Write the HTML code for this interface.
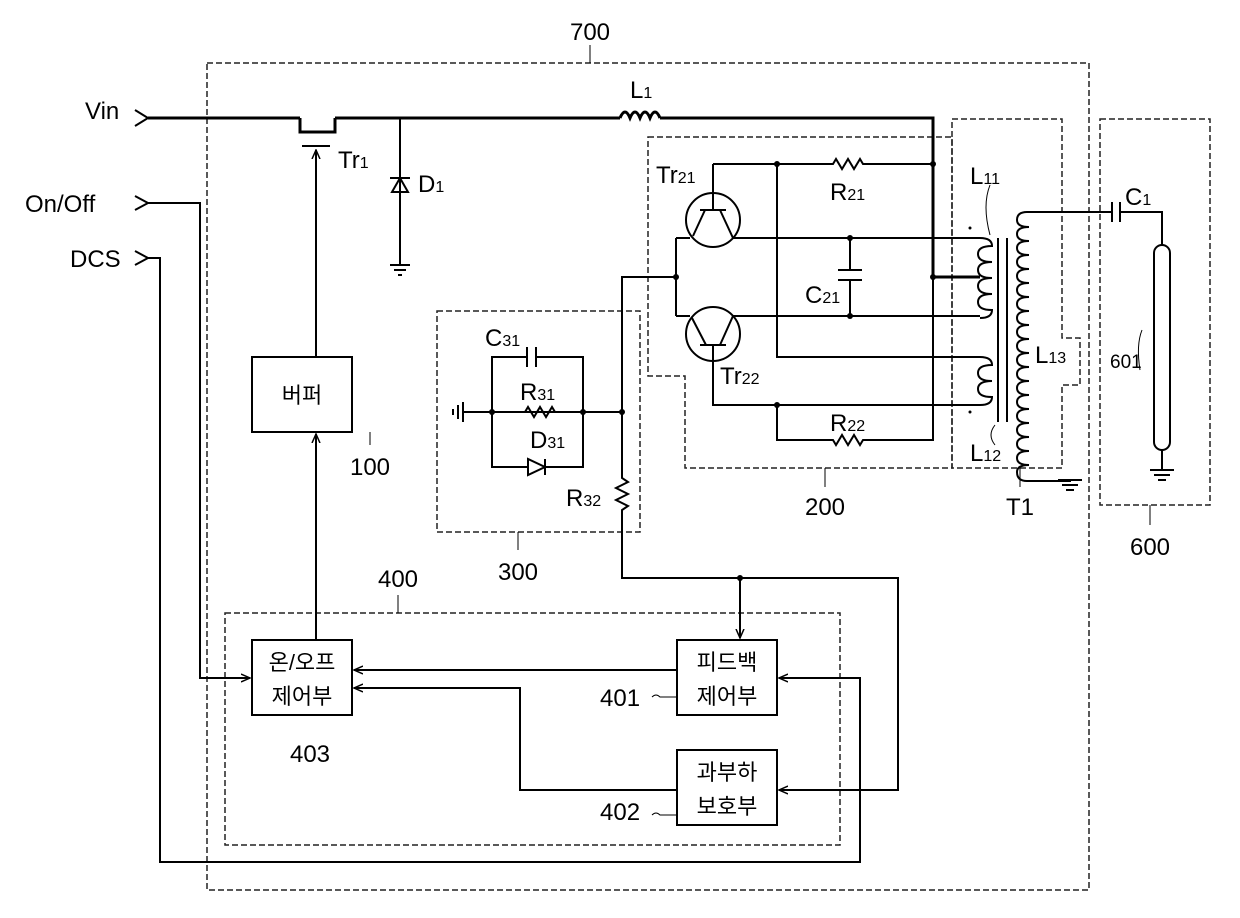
<!DOCTYPE html>
<html><head><meta charset="utf-8"><style>
html,body{margin:0;padding:0;background:#fff}
svg{display:block}
text{font-family:"Liberation Sans","Noto Sans CJK KR","NanumGothic",sans-serif;fill:#000}
.k{font-family:"NanumGothic","Noto Sans CJK KR",sans-serif}
</style></head><body>
<svg width="1240" height="918" viewBox="0 0 1240 918" xmlns="http://www.w3.org/2000/svg">
<defs><marker id="ar" markerWidth="10" markerHeight="10" refX="9" refY="5" orient="auto" markerUnits="userSpaceOnUse"><path d="M0,1 L9,5 L0,9" fill="none" stroke="#000" stroke-width="1.5"/></marker></defs>
<g fill="none" stroke="#222" stroke-width="1.5" stroke-dasharray="6,3">
<rect x="207" y="63" width="882" height="827"/>
<rect x="225" y="613" width="615" height="232"/>
<rect x="437" y="311" width="203" height="221"/>
<path d="M648,137 H952 V468 H685 V376 H648 Z"/>
<path d="M952,119 H1062 V338 H1080 V385 H1062 V468 H952 Z"/>
<rect x="1100" y="119" width="110" height="386"/>
</g>
<g fill="none" stroke="#000" stroke-width="2">
<path d="M135,110 L148,118 L135,126" stroke-width="2"/>
<path d="M148,118 H300 M335,118 H620 M665,118 H933 V277 H980" stroke-width="3"/>
<path d="M620,118 q5,-12 10,0 q5,-12 10,0 q5,-12 10,0 q5,-12 10,0" stroke-width="3"/>
<path d="M660,118 H665" stroke-width="3"/>
<path d="M300,118 V132 H335 V118" stroke-width="3"/>
<path d="M302,146 H330"/>
<path d="M316,358 V150" marker-end="url(#ar)"/>
<path d="M400,118 V265 M390,265 H410 M394,270 H406 M398,275 H402"/>
<path d="M392,192 L400,178 L408,192 Z M390,178 H410"/>
<rect x="252" y="357" width="100" height="75"/>
<path d="M316,640 V434" marker-end="url(#ar)"/>
<rect x="252" y="640" width="100" height="75"/>
<rect x="677" y="640" width="100" height="75"/>
<rect x="677" y="750" width="100" height="75"/>
<path d="M677,670 H354" marker-end="url(#ar)"/>
<path d="M677,790 H520 V688 H354" marker-end="url(#ar)"/>
<path d="M135,196 L148,203 L135,210 M148,203 H200 V678 H250" marker-end="url(#ar)"/>
<path d="M135,251 L148,258 L135,265 M148,258 H160 V862 H860 V678 H779" marker-end="url(#ar)"/>
<path d="M622,412 V478 l6,4 l-12,6 l12,6 l-12,6 l12,6 l-6,4 V578 H898 V790 H779" marker-end="url(#ar)"/>
<path d="M740,578 V638" marker-end="url(#ar)"/>
<path d="M463,412 H622 M463,402 V422 M458,405 V419 M453,409 V415"/>
<path d="M492,412 V467 H528 M545,467 H583 V357 H536 M527,357 H492 V412"/>
<path d="M527,347 V367 M536,347 V367"/>
<path d="M528,459 V475 L545,467 Z M545,459 V475"/>
<path d="M583,412 H555 l-3,-5 l-6,10 l-6,-10 l-6,10 l-6,-10 l-3,5"/>
<path d="M622,412 V277 H676"/>
<circle cx="713" cy="220" r="27"/>
<circle cx="713" cy="334" r="27"/>
<path d="M676,238 V316 M676,238 H690 M676,316 H690"/>
<path d="M713,164 V210 M700,210 H726 M705,210 L693,236 M720,210 L733,238 H980"/>
<path d="M700,345 H726 M706,345 L692,318 M720,345 L733,316 H980 M713,345 V405 H980"/>
<path d="M713,164 H833 l3,-5 l6,10 l6,-10 l6,10 l6,-10 l3,5 H933"/>
<path d="M777,164 V357 H980"/>
<path d="M777,405 V440 H833 l3,5 l6,-10 l6,10 l6,-10 l6,10 l3,-5 H933 V277"/>
<path d="M850,238 V270 M850,280 V316 M838,270 H862 M838,280 H862"/>
<path d="M980,238 q12,0 12,8 q-14,0 -14,8 q0,8 14,8 q-14,0 -14,8 q0,8 14,8 q-14,0 -14,8 q0,8 14,8 q-14,0 -14,8 q0,8 14,8 q0,8 -12,8"/>
<path d="M980,357 q12,0 12,8 q-14,0 -14,8 q0,8 14,8 q-14,0 -14,8 q0,8 14,8 q0,8 -12,8"/>
<path d="M998,238 V422 M1007,238 V422"/>
<path d="M1105,212 H1027 q-10,0 -10,8 q0,7 12,7 q-12,0 -12,7 q0,7 12,7 q-12,0 -12,7 q0,7 12,7 q-12,0 -12,7 q0,7 12,7 q-12,0 -12,7 q0,7 12,7 q-12,0 -12,7 q0,7 12,7 q-12,0 -12,7 q0,7 12,7 q-12,0 -12,7 q0,7 12,7 q-12,0 -12,7 q0,7 12,7 q-12,0 -12,7 q0,7 12,7 q-12,0 -12,7 q0,7 12,7 q-12,0 -12,7 q0,7 12,7 q-12,0 -12,7 q0,7 12,7 q-12,0 -12,7 q0,7 12,7 q-12,0 -12,7 q0,7 12,7 q-12,0 -12,7 q0,7 12,7 q-12,0 -12,7 q0,7 12,7 q-12,0 -12,7 q0,7 12,7 q-12,0 -12,7 q0,9 10,9 H1070 V480"/>
<path d="M1058,480 H1082 M1062,485 H1078 M1066,490 H1074"/>
<path d="M1105,212 H1112 M1112,202 V222 M1120,202 V222 M1120,212 H1162 V245"/>
<rect x="1154" y="245" width="16" height="205" rx="8"/>
<path d="M1162,450 V470 M1150,470 H1174 M1154,475 H1170 M1158,480 H1166"/>
<path d="M1142,330 q-6,15 -2,40" stroke-width="1"/>
<path d="M590,45 V63 M398,595 V613 M518,532 V550 M370,432 V445 M825,468 V487 M1020,468 V487 M1150,505 V525" stroke-width="1"/>
<path d="M990,185 q-8,20 0,50 M995,425 q-8,10 0,20" stroke-width="1"/>
<path d="M652,697 q4,-4 8,0 H677 M652,815 q4,-4 8,0 H677" stroke-width="1"/>
</g>
<g fill="#000">
<circle cx="492" cy="412" r="3"/><circle cx="583" cy="412" r="3"/><circle cx="622" cy="412" r="3"/>
<circle cx="676" cy="277" r="3"/><circle cx="777" cy="164" r="3"/><circle cx="933" cy="164" r="3"/>
<circle cx="850" cy="238" r="3"/><circle cx="850" cy="316" r="3"/><circle cx="933" cy="277" r="3"/>
<circle cx="777" cy="405" r="3"/><circle cx="740" cy="578" r="3"/>
<circle cx="970" cy="228" r="1.5"/><circle cx="970" cy="412" r="1.5"/>
</g>
<g font-size="24">
<text x="590" y="40" text-anchor="middle">700</text>
<text x="85" y="119">Vin</text>
<text x="25" y="212">On/Off</text>
<text x="70" y="267">DCS</text>
<text x="630" y="98">L<tspan font-size="16">1</tspan></text>
<text x="338" y="168">Tr<tspan font-size="16">1</tspan></text>
<text x="418" y="192">D<tspan font-size="16">1</tspan></text>
<text x="656" y="183">Tr<tspan font-size="16">21</tspan></text>
<text x="830" y="200">R<tspan font-size="16">21</tspan></text>
<text x="805" y="303">C<tspan font-size="16">21</tspan></text>
<text x="720" y="384">Tr<tspan font-size="16">22</tspan></text>
<text x="830" y="431">R<tspan font-size="16">22</tspan></text>
<text x="970" y="184">L<tspan font-size="16">11</tspan></text>
<text x="970" y="461">L<tspan font-size="16">12</tspan></text>
<text x="1035" y="363">L<tspan font-size="16">13</tspan></text>
<text x="1125" y="205">C<tspan font-size="16">1</tspan></text>
<text x="1110" y="368" font-size="19">601</text>
<text x="485" y="346">C<tspan font-size="16">31</tspan></text>
<text x="520" y="400">R<tspan font-size="16">31</tspan></text>
<text x="530" y="448">D<tspan font-size="16">31</tspan></text>
<text x="566" y="506">R<tspan font-size="16">32</tspan></text>
<text x="370" y="475" text-anchor="middle">100</text>
<text x="518" y="580" text-anchor="middle">300</text>
<text x="825" y="515" text-anchor="middle">200</text>
<text x="1020" y="515" text-anchor="middle">T1</text>
<text x="1150" y="555" text-anchor="middle">600</text>
<text x="398" y="587" text-anchor="middle">400</text>
<text x="310" y="762" text-anchor="middle">403</text>
<text x="600" y="706">401</text>
<text x="600" y="820">402</text>
</g>
<g class="k" font-size="22" text-anchor="middle">
<text x="302" y="403">버퍼</text>
<text x="302" y="670">온/오프</text>
<text x="302" y="704">제어부</text>
<text x="727" y="670">피드백</text>
<text x="727" y="704">제어부</text>
<text x="727" y="780">과부하</text>
<text x="727" y="814">보호부</text>
</g>
</svg>
</body></html>
